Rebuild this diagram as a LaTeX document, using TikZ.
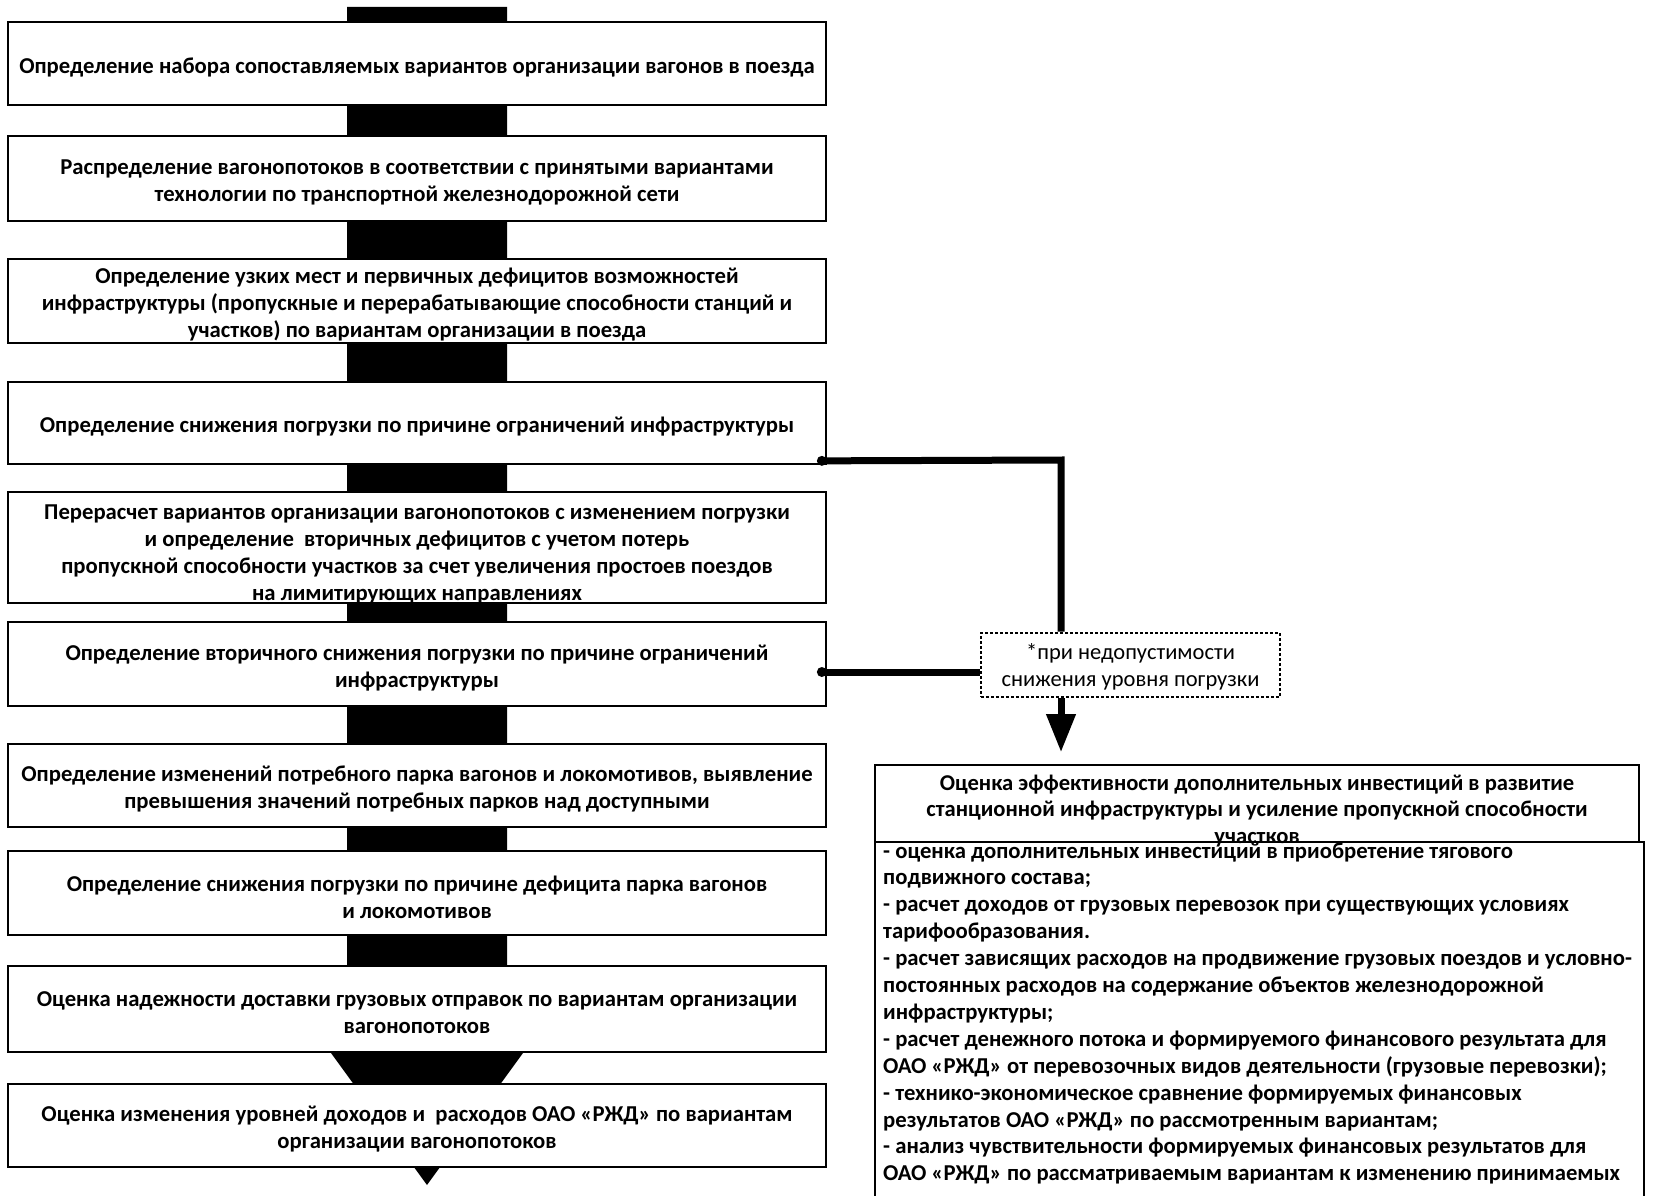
\documentclass[tikz,border=0pt]{standalone}
\usepackage{fontspec}
\setmainfont{Carlito}
\usetikzlibrary{arrows.meta,calc}
\newcommand\mysize{\fontsize{22.7}{27}\selectfont}
\newcommand\lstsize{\fontsize{22.7}{26.9}\selectfont}
% left step box: name, centre y, height, text shift, text
\newcommand\lbox[5]{%
  \node[box,minimum height=#3] (#1) at (417,#2) {};
  \node[btext] (#1t) at (417,#2+#4) {#5};}
\begin{document}
\begin{tikzpicture}[x=1pt,y=-1pt,
  box/.style={draw=black,line width=1.7pt,fill=white,inner sep=0pt,
    minimum width=818pt},
  btext/.style={inner sep=0pt,align=center,font=\mysize\bfseries},
  conn/.style={line width=7pt,black},
  dot/.style={fill=black},
  note/.style={draw=black,line width=2.6pt,dash pattern=on 2.6pt off 2.4pt,
    fill=white,inner sep=0pt,minimum width=299pt,minimum height=64pt},
  ntext/.style={inner sep=0pt,align=center,font=\fontsize{22.5}{27}\selectfont},
  rbox/.style={draw=black,line width=1.7pt,inner sep=0pt},
  rtext/.style={inner sep=0pt,font=\fontsize{22.6}{26.5}\selectfont\bfseries},
  ltext/.style={inner sep=0pt,font=\lstsize\bfseries}
]
\useasboundingbox (0,0) rectangle (1654,1196);
\fill[white] (0,0) rectangle (1654,1196);

% main flow block arrow
\fill[black] (347,7) -- (507,7) -- (507,965) -- (587,965) -- (427,1185)
  -- (267,965) -- (347,965) -- cycle;

\lbox{b1}{63.5}{83pt}{4}{Определение набора сопоставляемых вариантов организации вагонов в поезда}
\lbox{b2}{178.5}{85pt}{4}{Распределение вагонопотоков в соответствии с принятыми вариантами\\технологии по транспортной железнодорожной сети}
\lbox{b3}{301}{84pt}{4}{Определение узких мест и первичных дефицитов возможностей\\инфраструктуры (пропускные и перерабатывающие способности станций и\\участков) по вариантам организации в поезда}
\lbox{b4}{423}{82pt}{4}{Определение снижения погрузки по причине ограничений инфраструктуры}
\lbox{b5}{547.5}{111pt}{7}{Перерасчет вариантов организации вагонопотоков с изменением погрузки\\и определение\ \ вторичных дефицитов с учетом потерь\\пропускной способности участков за счет увеличения простоев поездов\\на лимитирующих направлениях}
\lbox{b6}{664}{84pt}{4}{Определение вторичного снижения погрузки по причине ограничений\\инфраструктуры}
\lbox{b7}{785.5}{83pt}{4}{Определение изменений потребного парка вагонов и локомотивов, выявление\\превышения значений потребных парков над доступными}
\lbox{b8}{893}{84pt}{4}{Определение снижения погрузки по причине дефицита парка вагонов\\и локомотивов}
\lbox{b9}{1009}{86pt}{4}{Оценка надежности доставки грузовых отправок по вариантам организации\\вагонопотоков}
\lbox{b10}{1125.5}{83pt}{4}{Оценка изменения уровней доходов и\ \ расходов ОАО «РЖД» по вариантам\\организации вагонопотоков}

% note box
\node[note] (d) at (1130.5,665) {};
\node[ntext] (dt) at (1130.5,667) {*при недопустимости\\снижения уровня погрузки};

% right header and list box
\node[rbox,minimum width=764pt,minimum height=77pt] (h) at (1257,803.5) {};
\node[rtext,align=center] (ht) at (1257,811)
  {Оценка эффективности дополнительных инвестиций в развитие\\станционной инфраструктуры и усиление пропускной способности\\участков};
\draw[line width=1.7pt] (875,1200) |- (1644,842) -- (1644,1200);
\node[ltext,anchor=base west,text width=760pt,align=flush left] (lt) at (883,858)
  {- оценка дополнительных инвестиций в приобретение тягового\\
   подвижного состава;\\
   - расчет доходов от грузовых перевозок при существующих условиях\\
   тарифообразования.\\
   - расчет зависящих расходов на продвижение грузовых поездов и условно-\\
   постоянных расходов на содержание объектов железнодорожной\\
   инфраструктуры;\\
   - расчет денежного потока и формируемого финансового результата для\\
   ОАО «РЖД» от перевозочных видов деятельности (грузовые перевозки);\\
   - технико-экономическое сравнение формируемых финансовых\\
   результатов ОАО «РЖД» по рассмотренным вариантам;\\
   - анализ чувствительности формируемых финансовых результатов для\\
   ОАО «РЖД» по рассматриваемым вариантам к изменению принимаемых};

% connectors
\coordinate (jx) at (1061,460);
\path (b4.south east) ++(-5,-4) coordinate (p4);
\path (b6.east) ++(-5,8) coordinate (p6);
\draw[conn] (p4) -- (jx) -- (jx |- d.north);
\fill[dot] (p4) circle (5pt);
\draw[conn] (p6) -- (p6 -| d.west);
\fill[dot] (p6) circle (5pt);
\draw[line width=7pt,-{Triangle[width=28pt,length=38pt]},shorten >=12pt]
  (jx |- d.south) -- (jx |- h.north);
\end{tikzpicture}
\end{document}
